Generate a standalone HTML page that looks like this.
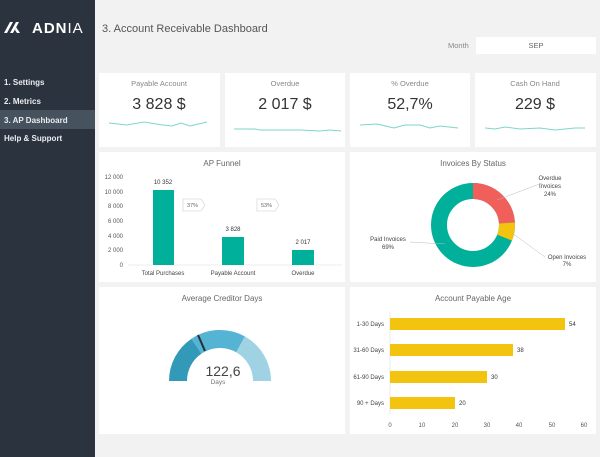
<!DOCTYPE html>
<html><head><meta charset="utf-8"><style>
html,body{margin:0;padding:0;width:600px;height:457px;overflow:hidden;background:#f2f2f2;}
svg{display:block;font-family:"Liberation Sans",sans-serif;}
</style></head><body>
<svg width="600" height="457" viewBox="0 0 600 457" xmlns="http://www.w3.org/2000/svg">
<rect x="0" y="0" width="600" height="457" fill="#f2f2f2"/>
<rect x="0" y="0" width="95" height="457" fill="#2b343e"/>
<rect x="0" y="110" width="95" height="19" fill="#46525e"/>
<g fill="#fff">
<path d="M4 33 L10 22 L13 22 L7 33 Z"/><path d="M10 33 L16 22 L19 22 L13 33 Z"/><path d="M16 27 L20 33 L17 33 L15 30 Z"/>
</g>
<text x="32" y="33" fill="#fff" font-size="15" font-weight="bold" letter-spacing="1">ADN<tspan font-weight="normal">IA</tspan></text>
<g fill="#e8ecef" font-size="8" font-weight="bold">
<text x="4" y="85">1. Settings</text>
<text x="4" y="104">2. Metrics</text>
<text x="4" y="123">3. AP Dashboard</text>
<text x="4" y="141">Help &amp; Support</text>
</g>
<text x="102" y="32" fill="#555" font-size="11">3. Account Receivable Dashboard</text>
<text x="448" y="48" fill="#888" font-size="7.5">Month</text>
<rect x="476" y="37" width="120" height="17" fill="#fff"/>
<text x="536" y="48" fill="#666" font-size="7.5" text-anchor="middle">SEP</text>
<g fill="#fff">
<rect x="99" y="73" width="121" height="74"/><rect x="225" y="73" width="120" height="74"/>
<rect x="350" y="73" width="120" height="74"/><rect x="475" y="73" width="121" height="74"/>
<rect x="99" y="152" width="246" height="130"/><rect x="350" y="152" width="246" height="130"/>
<rect x="99" y="287" width="246" height="147"/><rect x="350" y="287" width="246" height="147"/>
</g>
<g fill="#888" font-size="7.5" text-anchor="middle">
<text x="159" y="86">Payable Account</text><text x="285" y="86">Overdue</text>
<text x="410" y="86">% Overdue</text><text x="535" y="86">Cash On Hand</text>
</g>
<g fill="#333" font-size="16" text-anchor="middle">
<text x="159" y="109">3 828 $</text><text x="285" y="109">2 017 $</text>
<text x="410" y="109">52,7%</text><text x="535" y="109">229 $</text>
</g>
<g fill="none" stroke="#7dd6c8" stroke-width="1">
<polyline points="109,123 127,125 144,122 163,125 172,126 181,123 190,126 207,122"/>
<polyline points="234,129 255,129 260,130 285,130 300,130 320,131 330,130 341,131"/>
<polyline points="360,125 377,124 394,128 405,125 420,125 430,128 440,126 458,128"/>
<polyline points="485,128 495,129 505,127 520,129 540,128 555,130 575,128 585,128"/>
</g>
<text x="222" y="166" fill="#666" font-size="8" text-anchor="middle">AP Funnel</text>
<g fill="#555" font-size="6" text-anchor="end">
<text x="123" y="179">12 000</text><text x="123" y="194">10 000</text><text x="123" y="208">8 000</text>
<text x="123" y="223">6 000</text><text x="123" y="238">4 000</text><text x="123" y="252">2 000</text><text x="123" y="267">0</text>
</g>
<line x1="128" y1="265" x2="342" y2="265" stroke="#ddd" stroke-width="0.6"/>
<g fill="#00b09b">
<rect x="153" y="190" width="21" height="75"/><rect x="222" y="237" width="22" height="28"/><rect x="292" y="250" width="22" height="15"/>
</g>
<g fill="#333" font-size="6" text-anchor="middle">
<text x="163" y="184">10 352</text><text x="233" y="231">3 828</text><text x="303" y="244">2 017</text>
</g>
<g fill="#444" font-size="6" text-anchor="middle">
<text x="163" y="275">Total Purchases</text><text x="233" y="275">Payable Account</text><text x="303" y="275">Overdue</text>
</g>
<g fill="#fff" stroke="#ccc" stroke-width="0.6">
<path d="M183 199 H201 L205 205 L201 211 H183 Z"/><path d="M257 199 H275 L279 205 L275 211 H257 Z"/>
</g>
<g fill="#666" font-size="5.5"><text x="187" y="207">37%</text><text x="261" y="207">53%</text></g>
<text x="473" y="166" fill="#666" font-size="8" text-anchor="middle">Invoices By Status</text>
<g transform="translate(473,225)">
<circle r="34" fill="none" stroke="#00b09b" stroke-width="16"/>
<circle r="34" fill="none" stroke="#f05f5a" stroke-width="16" stroke-dasharray="51.27 213.63" transform="rotate(-90)"/>
<circle r="34" fill="none" stroke="#f2c40f" stroke-width="16" stroke-dasharray="0 51.27 14.95 213.63" transform="rotate(-90)"/>
</g>
<g stroke="#bbb" stroke-width="0.5" fill="none">
<polyline points="497,200 542,183"/><polyline points="512,233 545,257"/><polyline points="410,242 445,244"/>
</g>
<g fill="#444" font-size="6" text-anchor="middle">
<text x="550" y="180">Overdue</text><text x="550" y="188">Invoices</text><text x="550" y="196">24%</text>
<text x="567" y="259">Open Invoices</text><text x="567" y="266">7%</text>
<text x="388" y="241">Paid Invoices</text><text x="388" y="249">69%</text>
</g>
<text x="222" y="301" fill="#666" font-size="8" text-anchor="middle">Average Creditor Days</text>
<g transform="translate(220,381)">
<path d="M-51 0 A51 51 0 0 1 -28.5 -42.3 L-18.5 -27.4 A33 33 0 0 0 -33 0 Z" fill="#3399b8"/>
<path d="M-28.5 -42.3 A51 51 0 0 1 25 -44.5 L16.2 -28.8 A33 33 0 0 0 -18.5 -27.4 Z" fill="#55b3d3"/>
<path d="M25 -44.5 A51 51 0 0 1 51 0 L33 0 A33 33 0 0 0 16.2 -28.8 Z" fill="#9fd3e3"/>
<line x1="-22" y1="-46" x2="-15" y2="-30" stroke="#263038" stroke-width="2"/>
</g>
<text x="223" y="376" fill="#444" font-size="14" text-anchor="middle">122,6</text>
<text x="218" y="384" fill="#777" font-size="6.5" text-anchor="middle">Days</text>
<text x="473" y="301" fill="#666" font-size="8" text-anchor="middle">Account Payable Age</text>
<line x1="390" y1="312" x2="390" y2="414" stroke="#ddd" stroke-width="0.6"/>
<g fill="#f2c40f">
<rect x="390" y="318" width="175" height="12"/><rect x="390" y="344" width="123" height="12"/>
<rect x="390" y="371" width="97" height="12"/><rect x="390" y="397" width="65" height="12"/>
</g>
<g fill="#444" font-size="6" text-anchor="end">
<text x="384" y="326">1-30 Days</text><text x="384" y="352">31-60 Days</text><text x="384" y="379">61-90 Days</text><text x="384" y="405">90 + Days</text>
</g>
<g fill="#333" font-size="6"><text x="569" y="326">54</text><text x="517" y="352">38</text><text x="491" y="379">30</text><text x="459" y="405">20</text></g>
<g fill="#555" font-size="6" text-anchor="middle">
<text x="390" y="427">0</text><text x="422" y="427">10</text><text x="455" y="427">20</text><text x="487" y="427">30</text>
<text x="519" y="427">40</text><text x="552" y="427">50</text><text x="584" y="427">60</text>
</g>
</svg>
</body></html>
